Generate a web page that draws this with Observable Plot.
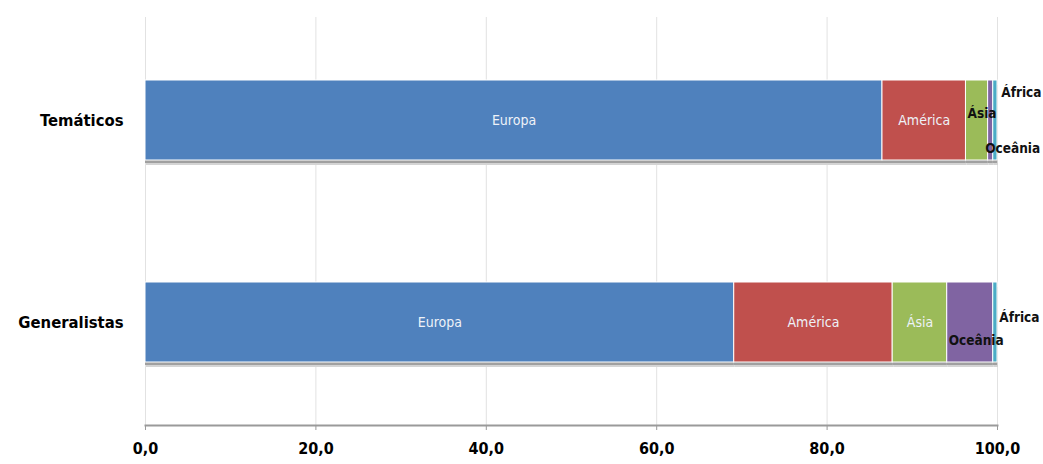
<!DOCTYPE html>
<html>
<head>
<meta charset="utf-8">
<script src="https://cdn.jsdelivr.net/npm/d3@7"></script>
<script src="https://cdn.jsdelivr.net/npm/@observablehq/plot@0.6"></script>
<style>
  html, body { margin: 0; padding: 0; background: #fff; }
  #chart svg { display: block; }
</style>
</head>
<body>
<div id="chart"></div>
<script>
const categories = ["Temáticos", "Generalistas"];
const regions = ["Europa", "América", "Ásia", "Oceânia", "África"];
const tematicos = [86.5, 9.8, 2.6, 0.6, 0.5];
const generalistas = [69.1, 18.6, 6.4, 5.4, 0.5];
const xTicks = [0, 20, 40, 60, 80, 100];
const colors = ["#4f81bd", "#c0504d", "#9bbb59", "#8064a2", "#4bacc6"];

// Build stacked table
const rows = [];
[[categories[0], tematicos], [categories[1], generalistas]].forEach(([cat, vals]) => {
  let acc = 0;
  vals.forEach((v, i) => {
    rows.push({cat, region: regions[i], value: v, x1: acc, x2: acc + v, mid: acc + v / 2, idx: i});
    acc += v;
  });
});

const fmt = d => d.toFixed(1).replace(".", ",");
const condensed = "'Liberation Sans Narrow', 'DejaVu Sans Condensed', sans-serif";

const insideLabels = rows.filter(r => r.value >= 6);
const outsideText = (cat, region, dx, dy) =>
  Plot.text(rows.filter(r => r.cat === cat && r.region === region), {
    x: "mid", y: "cat", text: "region", dx, dy,
    fill: "#111", fontWeight: "bold", fontSize: 13.5, fontFamily: condensed
  });

const chart = Plot.plot({
  width: 1043,
  height: 464,
  marginLeft: 145,
  marginRight: 46,
  marginTop: 17,
  marginBottom: 39,
  x: {domain: [0, 100]},
  y: {domain: categories, paddingInner: 0.606, paddingOuter: 0.31},
  color: {domain: regions, range: colors},
  style: {fontFamily: condensed, background: "#fff", color: "#000"},
  marks: [
    Plot.gridX(xTicks, {stroke: "#e2e2e2", strokeOpacity: 1, strokeWidth: 1}),
    Plot.frame({anchor: "bottom", stroke: "#9a9a9a", strokeWidth: 2}),
    Plot.axisX({ticks: xTicks, tickFormat: fmt, tickSize: 5, tickPadding: 12, stroke: "#9a9a9a",
      fontSize: 16, fontWeight: "bold", label: null}),
    Plot.axisY({tickSize: 0, tickPadding: 22, fontSize: 16.5, fontWeight: "bold", label: null}),
    // shadows
    Plot.barX(rows, {x1: "x1", x2: "x2", y: "cat", fill: "#d4d4d4", dy: 5, dx: 1}),
    Plot.barX(rows, {x1: "x1", x2: "x2", y: "cat", fill: "#a0a0a0", dy: 3}),
    Plot.barX(rows, {x1: "x1", x2: "x2", y: "cat", fill: "region", stroke: "#fff", strokeWidth: 1}),
    Plot.text(insideLabels, {x: "mid", y: "cat", text: "region", fill: "#eef2f8",
      fontSize: 14, fontFamily: condensed, style: "letter-spacing:0.6px"}),
    outsideText("Temáticos", "Ásia", 5, -7),
    outsideText("Temáticos", "Oceânia", 22, 28),
    outsideText("Temáticos", "África", 26, -28),
    outsideText("Generalistas", "Oceânia", 6, 18),
    outsideText("Generalistas", "África", 24, -5)
  ]
});
document.getElementById("chart").appendChild(chart);
</script>
</body>
</html>
